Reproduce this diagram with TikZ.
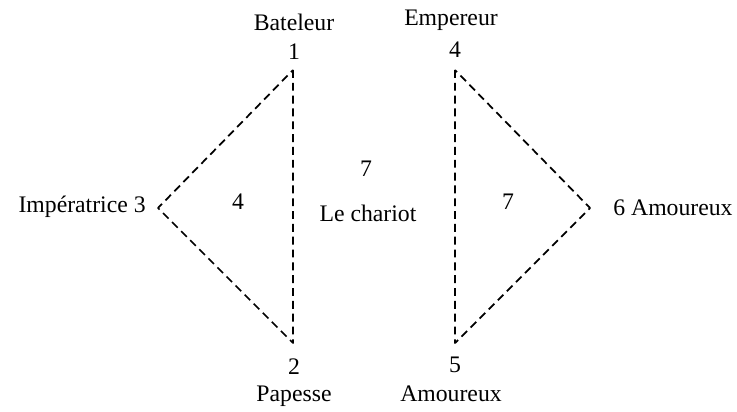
\documentclass[tikz,border=0pt]{standalone}
\usepackage{fontspec}
\setmainfont{Liberation Serif}
\usetikzlibrary{calc}

\begin{document}
\begin{tikzpicture}[x=0.02cm, y=-0.02cm, font=\fontsize{13.5}{16}\selectfont, line join=round, line cap=butt]
	\tikzset{arete/.style={dashed, dash pattern=on 4.5pt off 2.8pt, line width=1pt},
		lbl/.style={inner sep=0pt, anchor=center}}
	\useasboundingbox (0,0) rectangle (737,412);
	% sommets
	\coordinate (A1) at (293,70);
	\coordinate (A2) at (293,343);
	\coordinate (A3) at (158,208);
	\coordinate (B4) at (455,70);
	\coordinate (B5) at (455,343);
	\coordinate (B6) at (590,208);
	
	\draw[arete] (A1) -- (A2) -- (A3) -- cycle;
	\draw[arete] (B4) -- (B5) -- (B6) -- cycle;
	
	% noms
	\node[lbl] (bat) at (294,22) {Bateleur};
	\node[lbl] (n1) at (294,52) {1};
	\node[lbl] (emp) at (451,20) {Empereur};
	\node[lbl] (n4) at (455,50) {4};
	\node[lbl, anchor=east] (imp) at (146,207) {Impératrice 3};
	\node[lbl] (c4) at (238,202) {4};
	\node[lbl] (c7) at (366,169) {7};
	\node[lbl] (char) at (368,213) {Le chariot};
	\node[lbl] (d7) at (508,202) {7};
	\node[lbl, anchor=west] (am6) at (613,208) {6 Amoureux};
	\node[lbl] (n2) at (294,367) {2};
	\node[lbl] (pap) at (294,396) {Papesse};
	\node[lbl] (n5) at (455,365) {5};
	\node[lbl] (am5) at (451,394) {Amoureux};
\end{tikzpicture}
\end{document}
